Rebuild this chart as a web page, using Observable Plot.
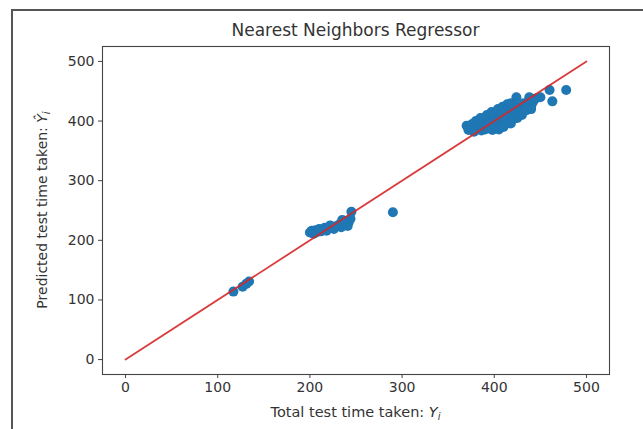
<!DOCTYPE html>
<html>
<head>
<meta charset="utf-8">
<script src="https://cdn.jsdelivr.net/npm/d3@7"></script>
<script src="https://cdn.jsdelivr.net/npm/@observablehq/plot@0.6"></script>
<style>
  html, body { margin: 0; padding: 0; background: #fff; }
  #wrap { position: relative; width: 643px; height: 429px; overflow: hidden; }
  #frame { position: absolute; left: 11px; top: 9px; width: 700px; height: 500px;
           border-left: 2px solid #555; border-top: 2px solid #555; pointer-events: none; }
  svg { font-family: "DejaVu Sans", sans-serif; }
</style>
</head>
<body>
<div id="wrap"><div id="frame"></div></div>
<script>
const trueTimes = [
  117, 127, 131, 134,
  200, 202, 204, 206, 208, 210, 212, 214, 216, 218, 220, 223, 226, 229, 232, 234, 236, 238, 240, 242, 244, 245, 241, 222, 235,
  290,
  370, 372, 374, 376, 378, 379, 381, 383, 384, 386, 387, 389, 390, 391, 393, 394, 395, 396, 398, 399,
  400, 401, 402, 403, 405, 406, 407, 408, 410, 411, 412, 413, 415, 416, 417, 419, 420, 421, 423, 424,
  425, 426, 428, 430, 432, 434, 436, 438, 440, 442, 445, 450, 460, 463, 478,
  380, 385, 392, 397, 404, 409, 414, 418, 405, 410, 418, 425, 430, 435, 440
];
const predTimes = [
  114, 122, 127, 131,
  213, 216, 211, 217, 214, 219, 215, 218, 221, 216, 220, 222, 219, 224, 227, 222, 229, 233, 226, 230, 236, 248, 224, 225, 234,
  247,
  392, 385, 388, 395, 382, 390, 386, 393, 398, 384, 390, 395, 386, 400, 392, 388, 404, 396, 385, 408,
  392, 400, 412, 388, 396, 405, 414, 392, 402, 410, 396, 416, 405, 420, 398, 410, 415, 404, 420, 440,
  410, 425, 416, 422, 430, 420, 428, 440, 425, 432, 438, 440, 452, 433, 452,
  400, 405, 410, 415, 420, 424, 428, 430, 386, 390, 396, 405, 410, 418, 420
];
const lineX = [0, 500];
const lineY = [0, 500];
const tickValues = [0, 100, 200, 300, 400, 500];
const title = "Nearest Neighbors Regressor";
const xLabel = "Total test time taken: ";
const yLabel = "Predicted test time taken: ";

const points = trueTimes.map((t, i) => ({t, p: predTimes[i]}));
const line = lineX.map((x, i) => ({x, y: lineY[i]}));

const W = 643, H = 429;
const mL = 102, mR = 34, mT = 46, mB = 55;

const chart = Plot.plot({
  width: W, height: H,
  marginLeft: mL, marginRight: mR, marginTop: mT, marginBottom: mB,
  style: {background: "#fff", fontFamily: "DejaVu Sans, sans-serif"},
  x: {domain: [-25, 525]},
  y: {domain: [-25, 525]},
  marks: [
    Plot.dot(points, {x: "t", y: "p", r: 5, fill: "#1f77b4", stroke: "none"}),
    Plot.line(line, {x: "x", y: "y", stroke: "#d62728", strokeWidth: 1.8, strokeOpacity: 0.9}),
    Plot.frame({stroke: "#444", strokeWidth: 1.1}),
    Plot.axisX({ticks: tickValues, tickSize: 4, tickPadding: 4, fontSize: 14, label: null, stroke: "#444", color: "#333"}),
    Plot.axisY({ticks: tickValues, tickSize: 4, tickPadding: 4, fontSize: 14, label: null, stroke: "#444", color: "#333"})
  ]
});

const svg = d3.select(chart);
const cx = mL + (W - mL - mR) / 2;
svg.append("text")
  .attr("x", cx).attr("y", 36)
  .attr("text-anchor", "middle")
  .attr("font-size", 17).attr("fill", "#333")
  .text(title);

const xl = svg.append("text")
  .attr("x", cx).attr("y", 417)
  .attr("text-anchor", "middle")
  .attr("font-size", 14.5).attr("fill", "#333");
xl.append("tspan").text(xLabel);
xl.append("tspan").attr("font-style", "italic").text("Y");
xl.append("tspan").attr("font-style", "italic").attr("font-size", 10).attr("dy", 3).text("i");

const cy = mT + (H - mT - mB) / 2;
const yl = svg.append("text")
  .attr("transform", `translate(47,${cy}) rotate(-90)`)
  .attr("text-anchor", "middle")
  .attr("font-size", 14).attr("fill", "#333");
yl.append("tspan").text(yLabel);
yl.append("tspan").attr("font-style", "italic").text("Ŷ");
yl.append("tspan").attr("font-style", "italic").attr("font-size", 10).attr("dy", 3).text("i");

document.getElementById("wrap").prepend(chart);
</script>
</body>
</html>
